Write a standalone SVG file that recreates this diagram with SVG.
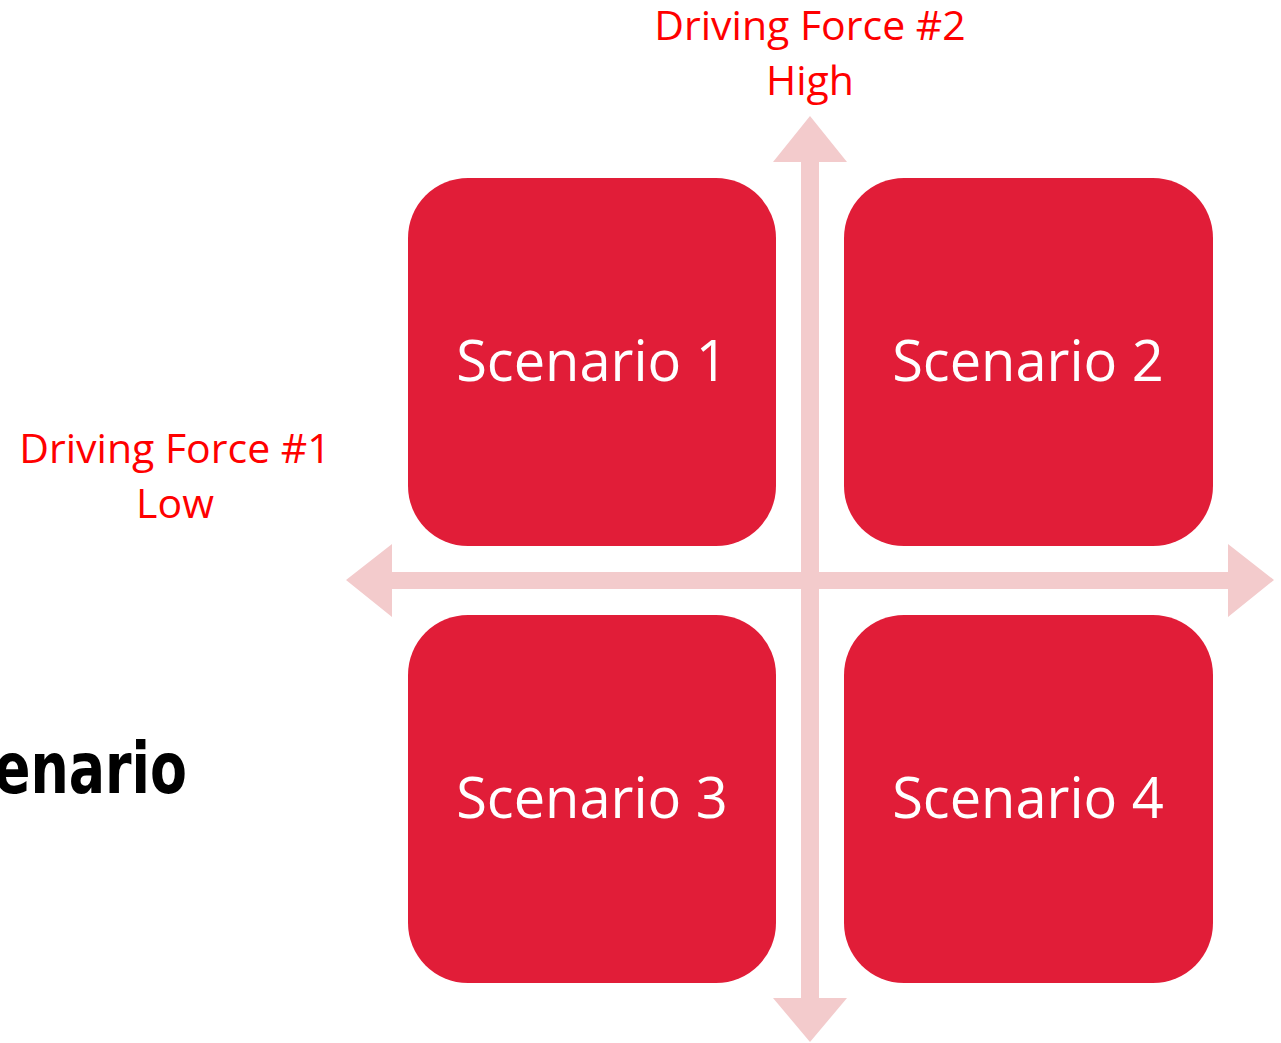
<svg xmlns="http://www.w3.org/2000/svg" width="1281" height="1043" viewBox="0 0 1281 1043">
<style>
.box{fill:#E11D38}
.arrow{fill:#F3CBCC}
.lbl{font-family:"Open Sans","Noto Sans","Liberation Sans",sans-serif;font-size:56px;fill:#FFFFFF;text-anchor:middle}
.df{font-family:"Open Sans","Noto Sans","Liberation Sans",sans-serif;font-size:41px;fill:#FF0000;text-anchor:middle}
.title{font-family:"DejaVu Sans","Liberation Sans",sans-serif;font-size:72px;font-weight:bold;fill:#000000}
</style>
<rect width="1281" height="1043" fill="#FFFFFF"/>
<text class="title" x="-6" y="793" textLength="193" lengthAdjust="spacingAndGlyphs">enario</text>
<g id="connectors">
<polygon class="arrow" points="346,580 392,544 392,572 1228,572 1228,544 1274,580 1228,617 1228,589 392,589 392,617"/>
<polygon class="arrow" points="810,116 847,162 819,162 819,998 847,998 810,1042 773,998 801,998 801,162 773,162"/>
</g>
<g id="scenario1"><rect class="box" x="408" y="178" width="368" height="368" rx="60"/><text class="lbl" x="592" y="381">Scenario 1</text></g>
<g id="scenario2"><rect class="box" x="844" y="178" width="369" height="368" rx="60"/><text class="lbl" x="1028" y="381">Scenario 2</text></g>
<g id="scenario3"><rect class="box" x="408" y="615" width="368" height="368" rx="60"/><text class="lbl" x="592" y="818">Scenario 3</text></g>
<g id="scenario4"><rect class="box" x="844" y="615" width="369" height="368" rx="60"/><text class="lbl" x="1028" y="818">Scenario 4</text></g>
<g id="force2"><text class="df" x="810" y="40">Driving Force #2</text><text class="df" x="810" y="95">High</text></g>
<g id="force1"><text class="df" x="175" y="463">Driving Force #1</text><text class="df" x="175" y="518">Low</text></g>
</svg>
